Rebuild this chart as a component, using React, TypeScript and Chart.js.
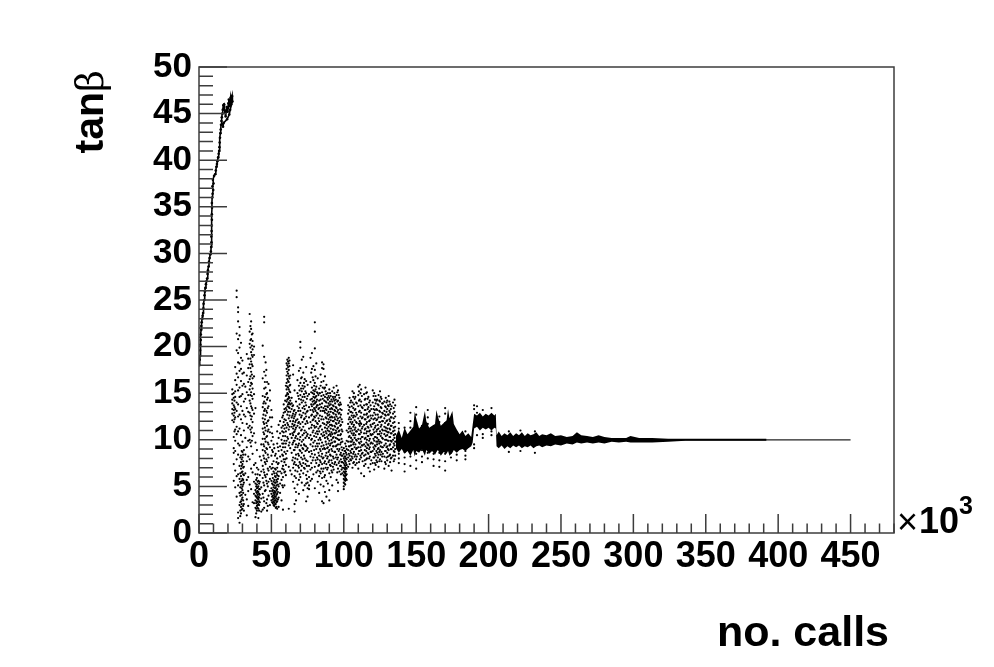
import React, { useEffect, useRef } from "react";
import { Chart, registerables } from "chart.js";

Chart.register(...registerables);

const xRange = [0, 480];
const yRange = [0, 50];
const xTickStep = 10;
const yTickStep = 1;
const xLabelEvery = 50;
const yLabelEvery = 5;

const xTitle = "no. calls";
const yTitleBold = "tan";
const yTitleSymbol = "β";
const exponentTimes = "×";
const exponentBase = "10";
const exponentPower = "3";

const risePoints: [number, number][] = [
  [0.3,18],[0.5,18.6],[0.7,19],[0.8,19.6],[1,20.2],[1.2,20.7],[1.3,21.3],[1.5,21.8],[1.6,22.2],[1.9,22.6],[2.2,23],[2.5,23.3],[2.8,23.6],[3,24.1],[3.2,24.6],
  [3.5,25],[3.8,25.5],[4.1,25.9],[4.4,26.3],[4.8,26.7],[5.2,27],[5.6,27.3],[5.9,27.8],[6.2,28.2],[6.6,28.6],[6.9,29.1],[7.3,29.5],[7.7,29.9],[8.2,30.2],
  [8.4,30.7],[8.6,31.2],[8.5,31.8],[8.7,32.4],[8.8,33],[8.9,33.6],[8.9,34.2],[9,34.9],[8.9,35.4],[9.1,36],[9.4,36.4],[9.8,36.8],[9.3,37.2],[10,37.5],[9.6,37.9],
  [10.4,38.3],[11.1,38.5],[11.6,38.9],[12,39.3],[12.4,39.6],[12.7,39.9],[13.2,40.3],[13.6,40.7],[13.9,41],[14.1,41.4],[14.3,41.9],[14.5,42.4],[14.8,42.9],
  [15,43.3],[15.2,43.8],[15.5,44.2],[15.8,44.6],[16.1,45],[16.4,45.4],[16.8,45.9],[17.3,46],[17.6,45.4],[18,45.1],[18.4,44.7],[18.8,45.3],[19.2,45.7],[19.6,45.2],
  [20,45.6],[20.3,46.1],[20.6,46.5],[21,45.8],[21.4,46.2],[21.8,46.7],[22.2,46],[22.5,46.6],[22.9,46.9],[23.1,46.3],[21.5,45.4],[20.9,44.9],[19.4,44.4],[17,44],[16.6,43.6],
];

const stripesEarly: [number, number[]][] = [
  [23,[15.4,14.9,14.3,13.9,13.3,12.8,12.1]],
  [24,[15,14.5,13.7,13.2,12.6,11.9,10.3,9.1,8.6,7.4,5.6]],
  [25,[17.8,16.4,15.2,14.6,13.3,12.4,11.1,9.9,8.8,6.7,4.9]],
  [26,[26,25.3,21.4,19.6,17.1,15.9,14,13.1,11.4,10.6,7.9,6.1,3.9]],
  [27,[24.2,23.7,22.7,20.8,19.3,18.3,16.7,15.3,13.8,12.5,10.9,9.6,8.4,6.3,5.1,2.2,1.6]],
  [28,[22.1,21.2,19.9,18.2,17.4,15.6,14.6,12.7,11.2,9.4,7.2,5.8,4.3,3,1.1]],
  [29,[20.4,18.8,17.6,16.3,14.7,13.6,12.2,10.5,8.3,7.6,6.9,6.1,5.2,4.4,3.4,2.8,2.1]],
  [30,[18.5,17.1,15.8,14.9,13.1,11.8,9.8,8.7,8.1,7.4,6.6,5.8,5,4.6,3.8,2.6]],
  [31,[17.2,16,14.1,12.7,11,8.9,7.1,6.2,5.4,3.1,2.4]],
  [32,[15.7,14.4,12.5,10.2,8.4,6.4,4.1]],
  [33,[19.2,16.9,15.1,13.4,11.7,9.2,7.7,5.7,3.6,1.9]],
  [34,[18.7,17.7,16.2,14.8,13,11.3,9.9,8.2,6,4.5,2.9]],
  [35,[23.5,21.6,20.3,18.1,16.5,15.4,14.2,12.9,11.5,10,7.9,5.2]],
  [36,[22.7,21.9,20.8,19.4,18.4,17.3,16.1,15.1,13.6,12.2,10.8,9.3,6.9,4.7]],
  [37,[21.4,20.6,19.7,18.9,17.9,16.6,15.5,14.4,13.2,11.9,10.4,8.5,6.5,3.3]],
  [38,[20,19.1,16.8,14.9,12.8,10.7,7.3,5.5,4.2,3.2]],
  [39,[13.4,9.7,7.5,6.3,5.3,4.6,4,3.5,2.7,1.7]],
  [40,[8.9,7,5.9,5.2,4.8,4.3,3.8,3.4,2.9,2.4]],
  [41,[6.8,5.6,5,4.4,3.9,3.6,3.1,2.6,1.6]],
  [42,[8.2,6.2,5.5,4.7,4.1,3.3]],
  [43,[9.5,7.8,6.6,4.9,3.7,2.3]],
  [44,[20.1,16.6,14.7,13.5,12.3,11.2,10.1,8.9,7.2,5.9,4.2,2.5]],
  [45,[23.2,22.6,18.9,17.3,15.5,14.1,13.1,11.7,10.6,9.3,8,6.5,5.1,3.4,2.7]],
  [46,[18.3,16.9,15.6,13.9,12.6,11,9.8,8.6,7.4,6,4.6]],
  [47,[16.2,15,14.3,12.9,11.5,10.4,9,7.7,6.3,5.3,3.6,2.4]],
  [48,[16,13.6,12.1,11.1,9.5,8.1,6.7,5.5,4]],
  [49,[15.3,14.2,12.4,10.8,9.2,7.1,5.8,4.5,3]],
  [50,[13.2,11.4,9.9,8.3,6.9,5.6,4.8,4.2,3.5]],
  [51,[10.3,8.7,7,5.9,5.2,4.6,4,3.6,3.2]],
  [52,[9.1,6.4,5.7,5.1,4.5,4.1,3.7,3.3,2.9]],
  [53,[8.5,6.8,6,5.4,4.9,4.4,3.9,3.5,3.1,2.7]],
  [54,[10.9,9.6,8,7,6.2,5.5,4.7,4.2,3.4,2.6]],
  [55,[11.6,10.2,8.8,7.5,6.1,5,3.8,2.8]],
  [56,[12,10.7,9.3,8.2,6.6,5.3,4.3]],
  [57,[11.3,10,8.9,7.7,6.4,5.7,3.5]],
  [58,[12.6,11.5,10.4,9.2,8.3,7.2,6,4.9,2.5]],
  [59,[13.3,12.2,11.2,9.9,8.7,7.6,6.5,5.1]],
  [60,[15.8,14.7,13.4,12.1,10.9,9.6,8.5,7.3,6.2]],
  [61,[18.6,18,17.3,16.5,15.7,15,14.3,13.6,12.7,11.8,10.3,8.8]],
  [62,[18.8,18.2,17.5,16.8,16.2,15.4,14.6,14,13.5,12.3,11.1,9.4,7.1,2.6]],
  [63,[16.9,15.9,15.1,14.2,13.8,13,12,10.6,9.1,6.7]],
];

const stripesEarlyCores: [number, number[]][] = [
  [24.5,[14.2,13.5,12.9,12.2,10.9]],
  [28.5,[8.1,6.4,5.5,4.9,4,3.3,2.4,1.8]],
  [29.5,[8.8,7.9,7.2,6.5,5.6,4.8,4.1,3.6,3.1,2.5]],
  [30.5,[8.4,7.7,7,6.3,5.7,5.2,4.3,3.5,2.9]],
  [35.5,[22.2,20.7,19.9,18.7,17.7,16.8,15.8,14.8,13.9,12.6,11.1,9.7]],
  [36.5,[21.3,20.1,19.1,18.1,17,16,14.7,13.4,12.5,11.3,9.9]],
  [39.5,[5.7,5,4.4,3.9,3.2,2.6,2.1]],
  [40.5,[6.3,5.5,4.9,4.5,4.1,3.7,3.3,3,2.7]],
  [41.5,[5.3,4.7,4.2,3.8,3.4,3,2.4]],
  [44.5,[13.9,12.7,11.9,10.8,9.5,8.3,6.8,5.4,3.8]],
  [45.5,[16.2,14.6,13.3,12.2,11.3,10.1,8.8,7.6,6.2,4.5]],
  [46.5,[17.5,14.9,13.1,11.8,10.3,9.1,7.9,5.6,3.2]],
  [47.5,[14.5,13.4,12,10.9,9.7,8.4,6.9,5,2.9]],
  [50.5,[12.4,10.7,8.9,7.4,6.3,5.3,4.5,3.9,3.3]],
  [51.5,[9.5,7.7,6.6,5.5,4.9,4.3,3.8,3.4,3]],
  [52.5,[8.3,6.9,6.1,5.4,4.8,4.3,3.9,3.5,3.1]],
  [53.5,[7.6,6.4,5.7,5.1,4.6,4.1,3.7,3.3,2.8]],
  [54.5,[9.2,7.4,6.6,5.8,5.2,4.4,3.6]],
  [57.5,[12.4,10.9,9.6,8.4,6.9,5.1]],
  [58.5,[13.8,12.9,11.9,10.8,9.6,7.9,6.8]],
  [59.5,[14.2,13,11.6,10.4,9.2,7.9,6.6]],
  [60.5,[18.2,17.6,16.9,16.1,15.4,14.8,14.1,13.2,11.3,9.9,8]],
  [61.5,[18.4,17.8,17.1,16.3,15.6,14.9,14.4,13.8,13,11.6,10.1]],
  [62.5,[18.5,17.9,16.6,15.8,15.2,14.5,13.9,13.4,12.6,11.4,9.7]],
];

const stripesMiddle: [number, number[]][] = [
  [64,[14.5,13.9,13.3,12.4,11.4,10.2,8.6,6.3]],
  [65,[18,17,13.7,12.8,12,11.2,10.5,9.7,8.1,7,5.5]],
  [66,[15.3,13.2,12.5,11.6,10.9,9.9,8.9,7.6,6.1,4.8,3.1,2.3]],
  [67,[14.1,12.9,12.1,11.3,10.4,9.5,8.4,7.3,5.9,4.4,3.5]],
  [68,[16.4,15,13.6,12.2,11.5,10.1,9.2,7.9,6.6,5.2]],
  [69,[17.4,15.8,14.4,13.4,11.9,10.7,9.6,8.3,7,5.7,4.2]],
  [70,[20.5,19.9,17.7,16.1,14.8,13.1,11.7,10.3,8.8,7.4,6]],
  [71,[18.6,16.7,15.2,14,12.6,11.1,9.8,8.6,7.2,5.4]],
  [72,[18.9,17.2,15.5,14.2,12.9,11.4,10,9,7.5,6.4,4.6]],
  [73,[16.5,15.7,14.6,13.3,12.3,11,9.4,8,6.9,5.1]],
  [74,[17.8,16.3,15,13.7,12.5,10.8,9.3,7.8,6.2,5.3,3.4]],
  [75,[15.9,14.7,13.1,11.8,10.6,9.1,7.7,6.6,5.4,4.8,3.9]],
  [76,[14.9,13.5,12.4,11.2,10.2,8.7,7.2,6,5.1,4.7]],
  [77,[18.8,16.2,14.3,13.2,11.9,10.5,9.5,8.2,6.8,5.6]],
  [78,[19.3,17.6,15.6,14.4,13.6,12.7,11.6,10.1,8.5,7,5.8]],
  [79,[17.9,16.4,15.3,14.6,13.8,13,12.2,11,9.7,8.1,6.3]],
  [80,[22.6,21.6,19.8,17.5,16.1,15.2,14.5,13.9,13.3,12.4,11.3,9.9,8.4,7.1,4.8]],
  [81,[18.2,15.7,14.7,14.1,13.5,12.6,11.4,10.3,9,7.5,6.5]],
  [82,[16.6,15,13.7,12.8,11.7,10.6,9.3,7.9,6.7,5.5]],
  [83,[15.5,14.2,13.4,12,10.9,9.6,8.3,7.3,6.1,4.3]],
  [84,[17,15.8,14.3,13.1,11.5,10,8.8,7.6,6.4,5.2]],
  [85,[18.3,17.7,15.1,13.9,12.5,11.1,9.7,8.5,7.4,5.9,3.4]],
  [86,[18.1,17.6,16.3,14.8,13.4,12.2,10.8,9.4,8.1,6.9,5,3.2]],
  [87,[16.8,15.6,14.6,13.6,12.9,11.3,10.2,9,7.7,6.2,4.4]],
  [88,[15.9,14.9,14,13.2,12.3,11.6,10.7,9.5,8.6,7.4,5.6,3.9]],
  [89,[15,14.3,13.5,12.6,11.8,11,10.1,9.2,8.2,7,5.3]],
  [90,[15.4,14.5,13.7,12.7,11.9,10.9,9.9,8.9,7.8,6.4,4.6,3.5]],
  [91,[14.7,13.8,13,12.1,11.2,10.4,9.6,8.3,7.2,6]],
  [92,[15.2,14.1,13.3,12.4,11.5,10.6,9.7,8.8,7.5,6.5,5.1]],
  [93,[15.6,14.4,13.6,12.8,12,11.1,10.3,9.3,8,6.8]],
  [94,[14.6,13.9,13.1,12.2,11.4,10.7,9.8,8.7,7.6]],
  [95,[15.8,14.8,13.4,12.5,11.7,10.8,9.4,8.4,7.3,5.7]],
  [96,[15.3,14.2,13.2,12.3,11.3,10.5,9.5,8.1,6.9,5.4,4.5]],
  [97,[14.5,13.7,12.9,12,11,10,9,7.7,6.6]],
  [98,[13.8,12.7,11.6,10.6,9.7,8.6,7.9,7.2,6.3]],
  [99,[11.9,10.9,9.8,8.9,8.3,7.6,7,6.4]],
];

const stripesMiddleFill: [number, number[]][] = [
  [64.5,[13.6,12.6,11.7,10.7,9.5,7.8]],
  [65.5,[13.1,12.3,11.5,10.8,9.9,8.9,7.4]],
  [66.5,[12.7,11.9,11.1,10.2,9.2,8,6.7]],
  [68.5,[14.7,13.1,11.8,10.6,9.4,8.5,7.2]],
  [69.5,[15.3,13.8,12.7,11.3,10,8.9,7.6,6.3]],
  [70.5,[16.6,15.5,14.3,12.4,11,9.4,8.1,6.7]],
  [71.5,[15.8,14.6,13.4,11.9,10.5,9.1,7.9]],
  [72.5,[16.1,14.9,13.6,12.2,10.7,9.5,8.3,7]],
  [73.5,[15.2,14,12.8,11.7,10.2,8.8,7.4]],
  [74.5,[14.4,13,12,10.4,8.9,7.2,5.8]],
  [77.5,[17.2,15.1,13.8,12.6,11.3,10,8.8,7.5]],
  [78.5,[16.7,15,14.1,13.2,12.1,10.8,9.3,7.8]],
  [79.5,[15.8,14.9,14.2,13.4,12.5,11.5,10.4,8.9]],
  [80.5,[16.8,15.4,14.6,14,13.1,12,10.7,9.3,7.8]],
  [81.5,[15.1,14.3,13.7,12.9,11.8,10.9,9.6,8.1]],
  [82.5,[14.8,13.3,12.3,11.2,10,8.6,7.2]],
  [83.5,[15,13.8,12.6,11.4,10.2,9,7.8,6.6]],
  [84.5,[16.2,14.7,13.5,12.2,10.6,9.3,8.2,6.9]],
  [85.5,[15.6,14.4,13.1,11.8,10.4,9,8,6.6]],
  [86.5,[15.5,14.2,13.1,11.7,10.5,9.1,7.5,6]],
  [87.5,[15.2,14.1,13.3,12.4,10.9,9.8,8.3,7]],
  [88.5,[14.5,13.6,12.8,11.9,11.2,10.3,9.1,8,6.8]],
  [89.5,[14.7,13.9,13,12.2,11.4,10.5,9.6,8.7,7.6]],
  [90.5,[15,14.1,13.3,12.4,11.6,10.6,9.4,8.4,7.3]],
  [91.5,[14.3,13.4,12.5,11.6,10.8,10,9,7.8,6.7]],
  [92.5,[14.6,13.7,12.9,12,11.1,10.2,9.3,8.2,7.1]],
  [93.5,[15,14.2,13.2,12.4,11.5,10.7,9.8,8.7,7.4]],
  [94.5,[14.3,13.5,12.7,11.8,11,10.2,9.3,8.1]],
  [95.5,[15.1,14.1,13,12.1,11.2,10.1,9,7.9,6.5]],
  [96.5,[14.8,13.8,12.8,11.8,10.9,10,8.8,7.5]],
  [97.5,[14,13.3,12.4,11.5,10.5,9.5,8.4,7.2]],
  [98.5,[13.2,12.2,11.1,10.1,9.2,8.3,7.6,6.8]],
];

const stripesLate: [number, number[]][] = [
  [100,[9.1,8.5,8,7.5,7,6.6,6.2,5.8,5.4,5,4.7]],
  [101,[9.6,8.8,8.2,7.7,7.2,6.8,6.4,6,5.6,5.2]],
  [102,[11,9.9,9,8.4,7.9,7.3,6.9,6.3,5.7]],
  [103,[13.7,12.8,11.7,10.8,9.8,8.9,8.1,7.1]],
  [104,[14.5,13.5,12.4,11.4,10.4,9.3,8.3,7.4]],
  [105,[14.2,13,12.2,11.2,10.2,9.4,8.6,7.8]],
  [106,[15.2,14,12.9,11.9,11,10,9,8,7]],
  [107,[15,13.8,12.6,11.6,10.7,9.7,8.7,7.6]],
  [108,[14.6,13.3,12.5,11.3,10.5,9.5,8.4,7.3]],
  [109,[13.9,12.7,11.8,10.9,9.9,9.1,8.2,7.5]],
  [110,[15.7,14.8,13.6,12.3,11.1,10.1,9.2,8.5,6.9]],
  [111,[15.9,14.3,13.1,12,11.5,10.6,9.6,8.8,7.9]],
  [112,[15.4,14.1,12.9,11.7,10.8,9.8,8.9,8.1,6.4]],
  [113,[13.4,12.4,11.4,10.3,9.4,8.6,7.7]],
  [114,[14.9,13.7,12.7,11.6,10.7,9.5,8.3,7.2,6.1]],
  [115,[15.6,14.4,13.2,12.2,11.2,10.2,9.3,8.4,7.4]],
  [116,[15.1,13.8,12.8,11.9,10.9,10,9.1,8]],
  [117,[14.6,13.5,12.5,11.3,10.4,9.4,8.5,7]],
  [118,[14.2,13.1,12.1,11,10.1,9.2,8.2,6.6]],
  [119,[13.3,12.3,11.4,10.5,9.7,8.7,7.8]],
  [120,[15.3,14,12.6,11.7,10.6,9.6,8.8,7.5]],
  [121,[15,13.6,12.9,11.8,10.8,9.9,9,8.1,6.8]],
  [122,[14.7,13.9,12.7,11.5,10.3,9.3,8.3,7.3]],
  [123,[14.3,13.2,12.2,11.1,10.2,9.5,8.6,7.6]],
  [124,[14.8,13.7,12.4,11.2,10,9.1,8.4,7.1]],
  [125,[15.2,14.1,13,11.9,10.9,9.8,8.9,7.9]],
  [126,[14.4,13.4,12.5,11.6,10.7,9.7,8.7,7.7]],
  [127,[13.9,12.8,12,11,10.1,9.2,8.5]],
  [128,[14.1,13.1,12.3,11.4,10.6,9.4,8.2,6.9]],
  [129,[14.5,13.5,12.6,11.3,10.4,9.6,8.8,7.4]],
  [130,[14.2,13.3,12.1,11.2,10.5,9.3,8.6,7.8]],
  [131,[14.7,13.6,12.7,11.7,10.8,9.9,8.9,7.2]],
  [132,[13.8,12.9,12,11.1,10.3,9.5,8.4,7.6]],
  [133,[13.6,12.4,11.5,10.7,9.8,9,8.1,6.7]],
  [134,[14,12.8,11.8,10.9,10,9.2,8.3]],
  [135,[14.3,13,11.9,11,10.2,9.4,8.7,7.9]],
  [138,[11.8,11.2,10.6,8.5,8,7.5]],
  [142,[11.3,10.7,8.7,8.1,7.4,6.6]],
  [146,[12.9,12,11.3,8.8,8.2,7.2]],
  [150,[13.5,12.7,11.8,11.2,8.5,7.8,6.9]],
  [154,[11.5,10.9,8.9,8.2,7.6]],
  [158,[13.2,12.4,11.7,11,8.6,8]],
  [162,[11.3,10.8,8.5,7.9,7.2]],
  [166,[12.5,11.9,11.2,8.6,7.8,7.1]],
  [170,[13.4,12.8,11.8,11.1,8.5,7.7,6.7]],
  [174,[11,10.7,8.6,8.1]],
  [178,[10.8,8.9,8.4,7.8]],
  [184,[10.9,8.8,8.3,7.9]],
  [190,[13.7,13.3,9.5,9.1]],
  [192,[13.6,12.9,10.5]],
  [196,[13.2,10.6,10.2]],
  [202,[13.4,10.9,10.5]],
  [214,[10.9,8.7]],
  [222,[11,8.8]],
  [232,[10.9,8.6]],
];

const stripesLateFill: [number, number[]][] = [
  [100.5,[8.8,8.2,7.8,7.3,6.9,6.5,6.1,5.7,5.3]],
  [101.5,[9.3,8.6,8,7.5,7,6.6,6.2,5.8]],
  [103.5,[13.2,12.2,11.2,10.3,9.3,8.5,7.7]],
  [104.5,[14,13,11.9,10.9,9.8,8.8,7.9]],
  [105.5,[13.6,12.6,11.7,10.7,9.8,9,8.2]],
  [106.5,[14.6,13.4,12.4,11.4,10.5,9.5,8.5,7.5]],
  [107.5,[14.4,13.2,12.1,11.1,10.2,9.2,8.2]],
  [108.5,[14,12.9,11.9,10.9,10,9,7.9]],
  [110.5,[15.2,14.2,13,11.7,10.6,9.7,8.8,7.6]],
  [111.5,[15,13.7,12.5,11.8,11,10.1,9.2,8.3]],
  [112.5,[14.7,13.5,12.3,11.2,10.3,9.4,8.5]],
  [114.5,[14.3,13.2,12.2,11.1,10.1,8.9,7.8]],
  [115.5,[15,13.8,12.7,11.7,10.7,9.7,8.8,7.9]],
  [116.5,[14.4,13.3,12.4,11.4,10.4,9.5,8.6]],
  [117.5,[14,13,12,10.9,9.9,9,8]],
  [118.5,[13.7,12.6,11.6,10.6,9.6,8.7,7.4]],
  [120.5,[14.7,13.3,12.2,11.1,10.1,9.2,8.1]],
  [121.5,[14.3,13.2,12.3,11.3,10.3,9.4,8.5,7.5]],
  [122.5,[14.2,13.3,12.1,10.9,9.8,8.8,7.8]],
  [123.5,[13.8,12.7,11.6,10.6,9.8,9,8.1]],
  [124.5,[14.2,13.1,11.9,10.6,9.6,8.7,7.7]],
  [125.5,[14.6,13.5,12.4,11.4,10.4,9.3,8.4]],
  [126.5,[13.9,12.9,12,11.1,10.2,9.2,8.2]],
  [128.5,[13.6,12.7,11.8,11,10,8.8,7.6]],
  [129.5,[14,13,12,10.9,10,9.2,8.1]],
  [130.5,[13.7,12.7,11.6,10.8,9.9,9,8.2]],
  [131.5,[14.1,13.1,12.2,11.2,10.3,9.4,8.3]],
  [132.5,[13.3,12.4,11.5,10.7,9.9,9,8]],
  [134.5,[13.4,12.3,11.3,10.5,9.6,8.8,7.7]],
  [135.5,[13.7,12.5,11.4,10.6,9.8,9,8.3]],
];

const bandX = [136,138,140,142,144,146,148,149,150,152,154,156,157,159,161,163,164,165,167,169,171,172,173,175,176,178,180,182,184,186,188,189,190,192,194,196,198,200,202,204,205,205.5,207,209,211,213,215,217,219,221,223,225,227,229,231,233,235,237,240,243,246,250,254,258,261,264,268,272,276,280,285,290,295,298,304,313,324,336,350,365,380,392];
const bandUpper = [10.4,11.1,10.2,11.3,10.6,11,11.4,13,12.3,11.2,11.6,13.1,12,11.3,11.5,11.7,13.2,12.5,11.5,11.8,12.1,13.3,12.3,13.1,11.7,11.1,10.6,11,10.4,10.7,10.3,11.6,12.8,12.6,12.9,12.5,12.8,12.6,12.9,12.6,12.8,10.5,10.9,10.4,10.7,10.5,10.8,10.4,10.7,10.5,10.8,10.4,10.7,10.5,10.6,10.8,10.4,10.6,10.5,10.7,10.4,10.5,10.3,10.4,10.8,10.5,10.4,10.3,10.5,10.3,10.2,10.2,10.2,10.4,10.2,10.2,10.1,10.1,10.1,10.1,10.1,10.1];
const bandLower = [9.1,8.6,9,8.5,8.8,8.3,8.9,8.2,8.8,8.6,9,8.3,8.9,8.5,8.8,8.4,8.7,8.9,8.3,8.7,8.5,8.8,8.3,8.6,8.9,8.6,8.9,9,8.8,9.1,9.3,9.7,11.2,11.4,11,11.3,11.1,11.3,11,11.3,11.2,9.3,9.1,9.4,9,9.3,9.1,9.4,9.2,9.4,9.1,9.3,9.2,9.4,9.1,9.3,9.4,9.2,9.4,9.3,9.5,9.4,9.6,9.5,9.7,9.6,9.7,9.6,9.7,9.6,9.8,9.7,9.8,9.7,9.7,9.7,9.8,9.9,9.9,9.9,9.9,9.9];

const tailX = [300, 360, 420, 450];
const tailY = [10, 10, 10, 10];

const FONT = '"Liberation Sans", Arial, sans-serif';
const INK = "#000000";
const FRAME = "#3c3c3c";

const stripePoints = (rows: [number, number[]][]) =>
  rows.flatMap(([x, ys]) => ys.map((y) => ({ x, y })));

const rootedTicksAndText = {
  id: "rootedTicksAndText",
  afterDatasetsDraw(chart: any) {
    const { ctx, chartArea: a, scales } = chart;
    ctx.save();
    ctx.strokeStyle = FRAME;
    ctx.lineWidth = 1.5;
    ctx.strokeRect(a.left, a.top, a.right - a.left, a.bottom - a.top);
    ctx.beginPath();
    scales.x.ticks.forEach((t: any) => {
      const px = scales.x.getPixelForValue(t.value);
      const len = t.value % xLabelEvery === 0 ? 19 : 9.5;
      ctx.moveTo(px, a.bottom);
      ctx.lineTo(px, a.bottom - len);
    });
    scales.y.ticks.forEach((t: any) => {
      const py = scales.y.getPixelForValue(t.value);
      const len = t.value % yLabelEvery === 0 ? 28 : 14;
      ctx.moveTo(a.left, py);
      ctx.lineTo(a.left + len, py);
    });
    ctx.stroke();

    ctx.fillStyle = INK;
    ctx.textBaseline = "alphabetic";
    ctx.textAlign = "right";
    ctx.font = `bold 43px ${FONT}`;
    ctx.fillText(xTitle, 889, 646);

    ctx.save();
    ctx.translate(103, 92);
    ctx.rotate(-Math.PI / 2);
    ctx.textAlign = "right";
    ctx.font = `bold 41px ${FONT}`;
    ctx.fillText(yTitleBold, 0, 0);
    ctx.textAlign = "left";
    ctx.font = `38px "DejaVu Serif", "Liberation Serif", serif`;
    ctx.fillText(yTitleSymbol, 0, 0);
    ctx.restore();

    ctx.textAlign = "left";
    ctx.font = `36px "Liberation Sans", sans-serif`;
    ctx.fillText(exponentTimes, 897, 534);
    ctx.font = `bold 36px ${FONT}`;
    ctx.fillText(exponentBase, 919, 533);
    ctx.font = `bold 25px ${FONT}`;
    ctx.fillText(exponentPower, 959, 514);
    ctx.restore();
  },
};

export default function App() {
  const ref = useRef<HTMLCanvasElement>(null);
  useEffect(() => {
    document.body.style.margin = "0";
    const dots = {
      type: "scatter" as const,
      showLine: false,
      pointRadius: 1.1,
      pointBorderWidth: 0,
      pointBackgroundColor: INK,
    };
    const chart = new Chart(ref.current!, {
      type: "scatter",
      data: {
        datasets: [
          {
            ...dots,
            label: "rise",
            data: risePoints.map(([x, y]) => ({ x, y })),
            showLine: true,
            borderColor: INK,
            borderWidth: 1.6,
            pointRadius: 1.3,
          },
          { ...dots, label: "early", data: stripePoints(stripesEarly) },
          { ...dots, label: "early cores", data: stripePoints(stripesEarlyCores) },
          { ...dots, label: "middle", data: stripePoints(stripesMiddle) },
          { ...dots, label: "middle fill", data: stripePoints(stripesMiddleFill) },
          { ...dots, label: "late", data: stripePoints(stripesLate) },
          { ...dots, label: "late fill", data: stripePoints(stripesLateFill) },
          {
            type: "line" as const,
            label: "band upper",
            data: bandX.map((x, i) => ({ x, y: bandUpper[i] })),
            borderWidth: 0,
            pointRadius: 0,
            fill: "+1",
            backgroundColor: INK,
          },
          {
            type: "line" as const,
            label: "band lower",
            data: bandX.map((x, i) => ({ x, y: bandLower[i] })),
            borderWidth: 0,
            pointRadius: 0,
            fill: false,
          },
          {
            type: "line" as const,
            label: "tail",
            data: tailX.map((x, i) => ({ x, y: tailY[i] })),
            borderColor: "#222222",
            borderWidth: 1.3,
            pointRadius: 0,
          },
        ],
      },
      options: {
        animation: false,
        responsive: false,
        layout: { padding: { top: 67, right: 100, left: 0, bottom: 0 } },
        plugins: { legend: { display: false }, tooltip: { enabled: false } },
        scales: {
          x: {
            type: "linear",
            min: xRange[0],
            max: xRange[1],
            afterFit: (s: any) => { s.height = 134; },
            grid: { display: false },
            border: { display: false },
            ticks: {
              stepSize: xTickStep,
              autoSkip: false,
              maxRotation: 0,
              minRotation: 0,
              padding: -6,
              color: INK,
              font: { family: FONT, size: 36, weight: "bold" },
              callback: (v: any) => (v % xLabelEvery === 0 ? String(v) : ""),
            },
          },
          y: {
            type: "linear",
            min: yRange[0],
            max: yRange[1],
            afterFit: (s: any) => { s.width = 199; },
            grid: { display: false },
            border: { display: false },
            ticks: {
              stepSize: yTickStep,
              autoSkip: false,
              padding: -1,
              color: INK,
              font: { family: FONT, size: 35, weight: "bold" },
              callback: (v: any) => (v % yLabelEvery === 0 ? String(v) : ""),
            },
          },
        },
      },
      plugins: [rootedTicksAndText],
    } as any);
    return () => chart.destroy();
  }, []);
  return (
    <canvas
      ref={ref}
      width={994}
      height={667}
      style={{ display: "block", width: 994, height: 667 }}
    />
  );
}
